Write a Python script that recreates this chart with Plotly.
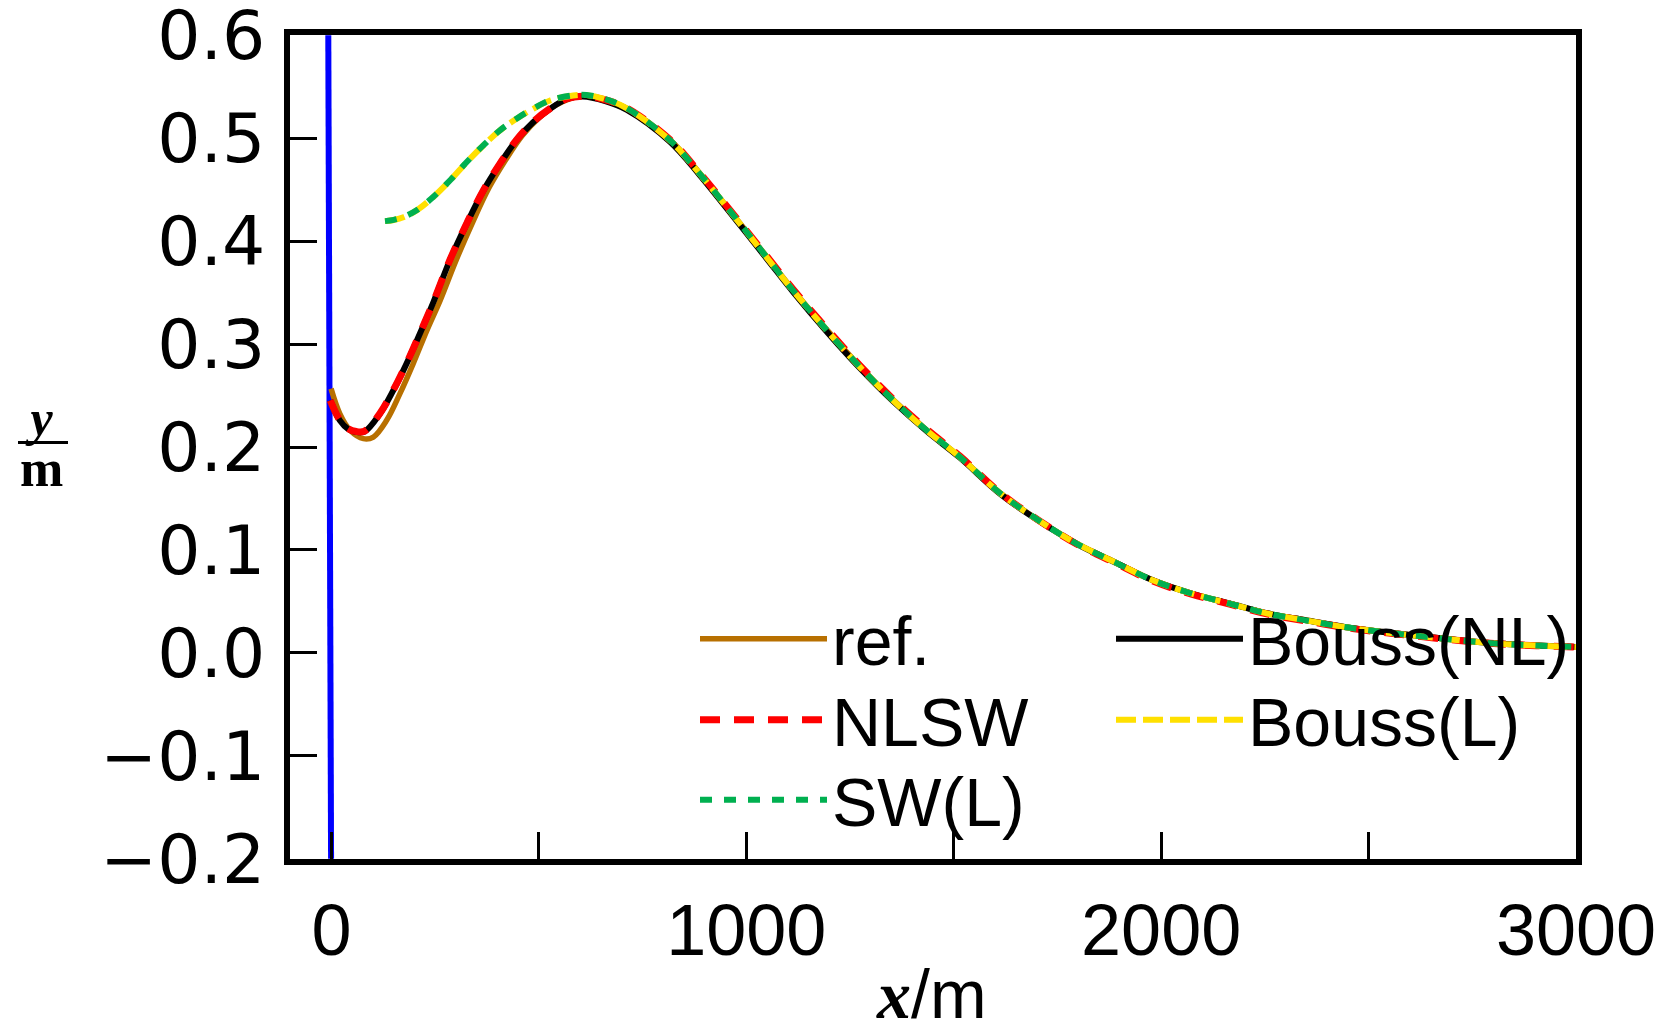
import plotly.graph_objects as go

# ---------------- data ----------------
ref_x = [-1, 20, 45, 77, 101, 133, 165, 197, 230, 262, 300, 340, 380, 420, 460, 500, 540, 605, 660, 712, 816, 888, 985, 1049, 1113, 1194, 1274, 1354, 1435, 1515, 1612, 1704, 1796, 1888, 1980, 2073, 2165, 2257, 2349, 2442, 2534, 2627, 2718, 2811, 2905, 3000]
ref_y = [0.2567, 0.2324, 0.2162, 0.2081, 0.2097, 0.2259, 0.2518, 0.2810, 0.3133, 0.3424, 0.3810, 0.4180, 0.4520, 0.4790, 0.5025, 0.5195, 0.5320, 0.5412, 0.5372, 0.5290, 0.4985, 0.4660, 0.4172, 0.3850, 0.3524, 0.3140, 0.2782, 0.2458, 0.2165, 0.1905, 0.1553, 0.1290, 0.1064, 0.0884, 0.0707, 0.0579, 0.0481, 0.0385, 0.0319, 0.0254, 0.0206, 0.0164, 0.0125, 0.0093, 0.0074, 0.0060]

nl_x = [-3, 20, 40, 60, 80, 117, 149, 181, 213, 245, 286, 326, 366, 406, 446, 486, 527, 567, 605, 660, 712, 816, 888, 985, 1049, 1113, 1194, 1274, 1354, 1435, 1515, 1612, 1704, 1796, 1888, 1980, 2073, 2165, 2257, 2349, 2442, 2534, 2627, 2718, 2811, 2905, 3000]
bouss_nl_y = [0.2453, 0.2259, 0.2175, 0.2146, 0.2150, 0.2324, 0.2550, 0.2810, 0.3100, 0.3400, 0.3820, 0.4170, 0.4490, 0.4750, 0.4980, 0.5155, 0.5285, 0.5380, 0.5405, 0.5360, 0.5275, 0.4965, 0.4640, 0.4155, 0.3830, 0.3505, 0.3120, 0.2765, 0.2443, 0.2153, 0.1895, 0.1545, 0.1285, 0.1060, 0.0880, 0.0705, 0.0577, 0.0480, 0.0383, 0.0317, 0.0252, 0.0204, 0.0162, 0.0123, 0.0091, 0.0072, 0.0058]
nlsw_y = [0.2453, 0.2262, 0.2178, 0.2150, 0.2155, 0.2328, 0.2552, 0.2812, 0.3102, 0.3402, 0.3822, 0.4172, 0.4492, 0.4752, 0.4983, 0.5158, 0.5288, 0.5383, 0.5408, 0.5372, 0.5292, 0.4985, 0.4660, 0.4178, 0.3855, 0.3530, 0.3148, 0.2790, 0.2465, 0.2172, 0.1910, 0.1555, 0.1290, 0.1058, 0.0876, 0.0699, 0.0571, 0.0473, 0.0376, 0.0311, 0.0247, 0.0199, 0.0158, 0.0120, 0.0088, 0.0070, 0.0056]

lin_x = [129, 150, 175, 205, 245, 286, 326, 366, 406, 446, 486, 527, 583, 615, 660, 712, 816, 888, 985, 1049, 1113, 1194, 1274, 1354, 1435, 1515, 1612, 1704, 1796, 1888, 1980, 2073, 2165, 2257, 2349, 2442, 2534, 2627, 2718, 2811, 2905, 3000]
bouss_l_y = [0.4194, 0.4205, 0.4235, 0.4298, 0.4427, 0.4590, 0.4767, 0.4929, 0.5075, 0.5188, 0.5285, 0.5366, 0.5415, 0.5418, 0.5378, 0.5290, 0.4978, 0.4652, 0.4168, 0.3843, 0.3518, 0.3133, 0.2776, 0.2452, 0.2160, 0.1901, 0.1550, 0.1288, 0.1062, 0.0882, 0.0705, 0.0577, 0.0479, 0.0382, 0.0316, 0.0251, 0.0203, 0.0161, 0.0122, 0.0090, 0.0071, 0.0057]
sw_l_y = [0.4194, 0.4206, 0.4236, 0.4299, 0.4428, 0.4591, 0.4768, 0.4930, 0.5076, 0.5189, 0.5286, 0.5367, 0.5416, 0.5419, 0.5379, 0.5291, 0.4979, 0.4653, 0.4169, 0.3844, 0.3519, 0.3134, 0.2777, 0.2453, 0.2161, 0.1902, 0.1551, 0.1289, 0.1062, 0.0882, 0.0705, 0.0577, 0.0479, 0.0382, 0.0316, 0.0251, 0.0203, 0.0161, 0.0122, 0.0090, 0.0071, 0.0057]

wall_x = [-7.7, -1.0]
wall_y = [0.6, -0.2]

x_ticks = [0, 500, 1000, 1500, 2000, 2500, 3000]
x_ticktext = ["0", "", "1000", "", "2000", "", "3000"]
y_ticks = [-0.2, -0.1, 0.0, 0.1, 0.2, 0.3, 0.4, 0.5, 0.6]

# ---------------- figure ----------------
OFF = 8                      # default page-body margin of the html page
W, H = 1679 - OFF, 1023 - OFF
# plot area in screen pixels: x 290..1576, y 35..859
ML, MT = 290 - OFF, 35 - OFF
MR, MB = W - (1576 - OFF), H - (859 - OFF)
PW, PH = W - ML - MR, H - MT - MB

def px(X):       # screen x -> paper
    return (X - OFF - ML) / PW

def py(Y):       # screen y -> paper
    return (H - MB - (Y - OFF)) / PH

LEG_FONT = dict(family="Liberation Sans, Arial, sans-serif", size=68, color="black")

fig = go.Figure()
fig.add_trace(go.Scatter(x=wall_x, y=wall_y, mode="lines", line=dict(color="#0000ff", width=6),
                         showlegend=False, hoverinfo="skip"))
fig.add_trace(go.Scatter(x=ref_x, y=ref_y, mode="lines", name="ref.", legend="legend",
                         line=dict(color="#b87000", width=5.5, shape="spline")))
fig.add_trace(go.Scatter(x=nl_x, y=bouss_nl_y, mode="lines", name="Bouss(NL)", legend="legend4",
                         line=dict(color="black", width=6, shape="spline")))
fig.add_trace(go.Scatter(x=nl_x, y=nlsw_y, mode="lines", name="NLSW", legend="legend2",
                         line=dict(color="#ff0000", width=7, dash="20px,14px", shape="spline")))
fig.add_trace(go.Scatter(x=lin_x, y=bouss_l_y, mode="lines", name="Bouss(L)", legend="legend5",
                         line=dict(color="#ffe000", width=6, dash="20px,7px", shape="spline")))
fig.add_trace(go.Scatter(x=lin_x, y=sw_l_y, mode="lines", name="SW(L)", legend="legend3",
                         line=dict(color="#00b050", width=6, dash="12px,12px", shape="spline")))

def leg(x, y):
    return dict(x=x, y=y, xanchor="left", yanchor="middle", bgcolor="rgba(0,0,0,0)",
                borderwidth=0, font=LEG_FONT, itemwidth=127, tracegroupgap=0)

col1, col2 = px(695), px(1111)
fig.update_layout(
    legend=leg(col1, py(639)),
    legend2=leg(col1, py(720)),
    legend3=leg(col1, py(800)),
    legend4=leg(col2, py(639)),
    legend5=leg(col2, py(720)),
)

fig.update_xaxes(
    range=[-100, 3000], tickmode="array", tickvals=x_ticks, ticktext=x_ticktext,
    ticks="inside", ticklen=27, tickwidth=3, tickcolor="black",
    showline=True, linewidth=6, linecolor="black", mirror=True,
    showgrid=False, zeroline=False, automargin=False,
    tickfont=dict(family="Liberation Sans, Arial, sans-serif", size=72, color="black"),
    ticklabelstandoff=4, ticklabeloverflow="allow",
)
fig.update_yaxes(
    range=[-0.2002, 0.6002], tickmode="array", tickvals=y_ticks, tickformat=".1f",
    ticks="inside", ticklen=27, tickwidth=3, tickcolor="black",
    showline=True, linewidth=6, linecolor="black", mirror=True,
    showgrid=False, zeroline=False, automargin=False,
    tickfont=dict(family="DejaVu Sans, sans-serif", size=68, color="black"),
    ticklabelstandoff=5, ticklabeloverflow="allow",
)

# axis titles
fig.add_annotation(xref="paper", yref="paper", x=px(931), y=py(994), xanchor="center", yanchor="middle",
                   text='<span style="font-family:Liberation Serif"><b><i>x</i></b></span>/m',
                   showarrow=False, font=dict(family="Liberation Sans, Arial, sans-serif", size=68, color="black"))
fig.add_annotation(xref="paper", yref="paper", x=px(41), y=py(444), xanchor="center", yanchor="middle",
                   text="<span style='font-size:50px'><b><i>y</i></b></span><br>"
                        "<span style='font-size:52px'><b>m</b></span>",
                   showarrow=False, font=dict(family="Liberation Serif, serif", size=39, color="black"))
fig.add_shape(type="line", xref="paper", yref="paper", x0=px(18), x1=px(68), y0=py(442.5), y1=py(442.5),
              line=dict(color="black", width=3))

fig.update_layout(
    width=W, height=H, margin=dict(l=ML, r=MR, t=MT, b=MB, autoexpand=False),
    paper_bgcolor="white", plot_bgcolor="white",
    font=dict(family="Liberation Sans, Arial, sans-serif", color="black"),
)

fig.write_html("out.html")
